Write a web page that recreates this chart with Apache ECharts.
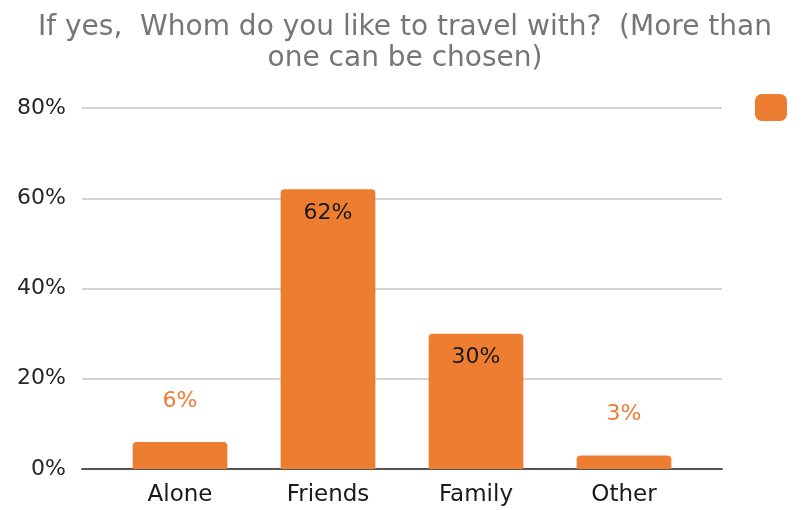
<!DOCTYPE html>
<html>
<head>
<meta charset="utf-8">
<script src="https://cdn.jsdelivr.net/npm/echarts@6/dist/echarts.min.js"></script>
<style>
  html, body { margin: 0; padding: 0; background: #fff; }
  #chart { width: 810px; height: 510px; }
</style>
</head>
<body>
<div id="chart"></div>
<script>
// Survey answers: travel companions (multiple choice)
const titleLines = ['If yes,  Whom do you like to travel with?  (More than', 'one can be chosen)'];
const categories = ['Alone', 'Friends', 'Family', 'Other'];
const shares = [6, 62, 30, 3];
const yTicks = [0, 20, 40, 60, 80];

const ORANGE = '#ED7D31';
const FONT = 'DejaVu Sans';

// Small bars carry their label above in orange, tall bars inside in black
const barData = shares.map(function (v) {
  const inside = v >= 15;
  return {
    value: v,
    label: inside
      ? { position: 'insideTop', distance: 13, color: '#1a1a1a' }
      : { position: 'top', distance: 30, color: ORANGE }
  };
});

const chart = echarts.init(document.getElementById('chart'), null, { renderer: 'canvas' });
chart.setOption({
  backgroundColor: '#ffffff',
  animation: false,
  title: {
    text: titleLines.join('\n'),
    left: 'center',
    top: 7,
    textStyle: {
      fontFamily: FONT, fontSize: 28, fontWeight: 'normal',
      color: '#767676', lineHeight: 31
    }
  },
  legend: {
    right: 18,
    top: 89,
    icon: 'roundRect',
    itemWidth: 32,
    itemHeight: 27,
    formatter: function () { return ''; },
    data: ['Share'],
    textStyle: { fontFamily: FONT }
  },
  grid: [
    // full-width frame: value scale, gridlines and baseline
    { left: 82, right: 88, top: 108, bottom: 41 },
    // narrower band where the bars sit
    { left: 106, right: 112, top: 108, bottom: 41 }
  ],
  xAxis: [
    {
      gridIndex: 0, type: 'category', data: categories,
      axisLine: { lineStyle: { color: '#555555', width: 2 } },
      axisTick: { show: false }, axisLabel: { show: false }
    },
    {
      gridIndex: 1, type: 'category', data: categories,
      axisLine: { show: false }, axisTick: { show: false },
      axisLabel: { margin: 15, fontFamily: FONT, fontSize: 23, color: '#1a1a1a' }
    }
  ],
  yAxis: [
    {
      gridIndex: 0, type: 'value', min: yTicks[0], max: yTicks[yTicks.length - 1], interval: 20,
      axisLine: { show: false }, axisTick: { show: false },
      axisLabel: {
        margin: 16, fontFamily: FONT, fontSize: 22, color: '#262626',
        formatter: function (v) { return v + '%'; }
      },
      splitLine: { lineStyle: { color: '#d3d3d3', width: 2 } }
    },
    {
      gridIndex: 1, type: 'value', min: yTicks[0], max: yTicks[yTicks.length - 1], interval: 20,
      show: false, splitLine: { show: false }
    }
  ],
  series: [{
    name: 'Share',
    type: 'bar',
    xAxisIndex: 1,
    yAxisIndex: 1,
    barWidth: '64%',
    data: barData,
    itemStyle: { color: ORANGE, borderRadius: [4, 4, 0, 0] },
    label: {
      show: true,
      fontFamily: FONT, fontSize: 22,
      formatter: function (p) { return p.value + '%'; }
    },
    z: 3
  }]
});
</script>
</body>
</html>
